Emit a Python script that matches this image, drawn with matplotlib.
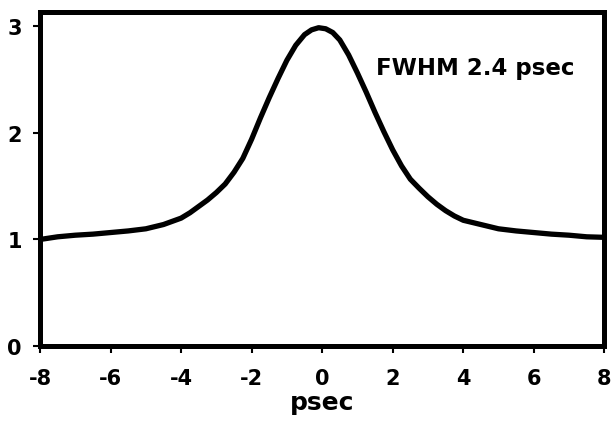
import matplotlib
matplotlib.use("Agg")
import matplotlib.pyplot as plt

# autocorrelation trace
delay_ps = [-8.0, -7.5, -7.0, -6.5, -6.0, -5.5, -5.0, -4.5, -4.0, -3.75, -3.5,
            -3.25, -3.0, -2.75, -2.5, -2.25, -2.0, -1.75, -1.5, -1.25, -1.0,
            -0.75, -0.5, -0.3, -0.1, 0.1, 0.3, 0.5, 0.75, 1.0, 1.25, 1.5,
            1.75, 2.0, 2.25, 2.5, 2.75, 3.0, 3.25, 3.5, 3.75, 4.0, 4.5, 5.0,
            5.5, 6.0, 6.5, 7.0, 7.5, 8.0]
signal = [1.00, 1.025, 1.04, 1.05, 1.065, 1.08, 1.10, 1.14, 1.20, 1.25, 1.31,
          1.37, 1.44, 1.52, 1.63, 1.76, 1.94, 2.14, 2.33, 2.51, 2.68,
          2.82, 2.92, 2.965, 2.985, 2.975, 2.94, 2.87, 2.73, 2.56, 2.38, 2.19,
          2.01, 1.84, 1.69, 1.565, 1.48, 1.40, 1.33, 1.27, 1.22, 1.18, 1.14, 1.10,
          1.08, 1.065, 1.05, 1.04, 1.025, 1.02]

x_ticks = [-8, -6, -4, -2, 0, 2, 4, 6, 8]
y_ticks = [0, 1, 2, 3]
label_text = "FWHM 2.4 psec"

plt.rcParams['font.family'] = ['DejaVu Sans']
plt.rcParams['font.weight'] = 'bold'
plt.rcParams['axes.unicode_minus'] = False

fig = plt.figure(figsize=(6.16, 4.27), dpi=100)
ax = fig.add_axes([0.065, 0.187, 0.916, 0.782])

ax.plot(delay_ps, signal, color='black', lw=3.8,
        solid_joinstyle='round', solid_capstyle='round')

ax.set_xlim(-8, 8)
ax.set_ylim(0, 3.13)
ax.set_xticks(x_ticks)
ax.set_yticks(y_ticks)
ax.tick_params(direction='out', length=5, width=1.5, labelsize=15)
ax.tick_params(axis='x', pad=11)
ax.tick_params(axis='y', pad=8)
for lab in ax.get_xticklabels() + ax.get_yticklabels():
    lab.set_fontweight('bold')

for sp in ax.spines.values():
    sp.set_linewidth(3.6)

ax.set_xlabel("psec", fontsize=18, fontweight='bold', labelpad=1)
ax.text(0.595, 0.835, label_text, transform=ax.transAxes, fontsize=16.5,
        fontweight='bold', ha='left', va='center')

fig.savefig("out.png", dpi=100)
